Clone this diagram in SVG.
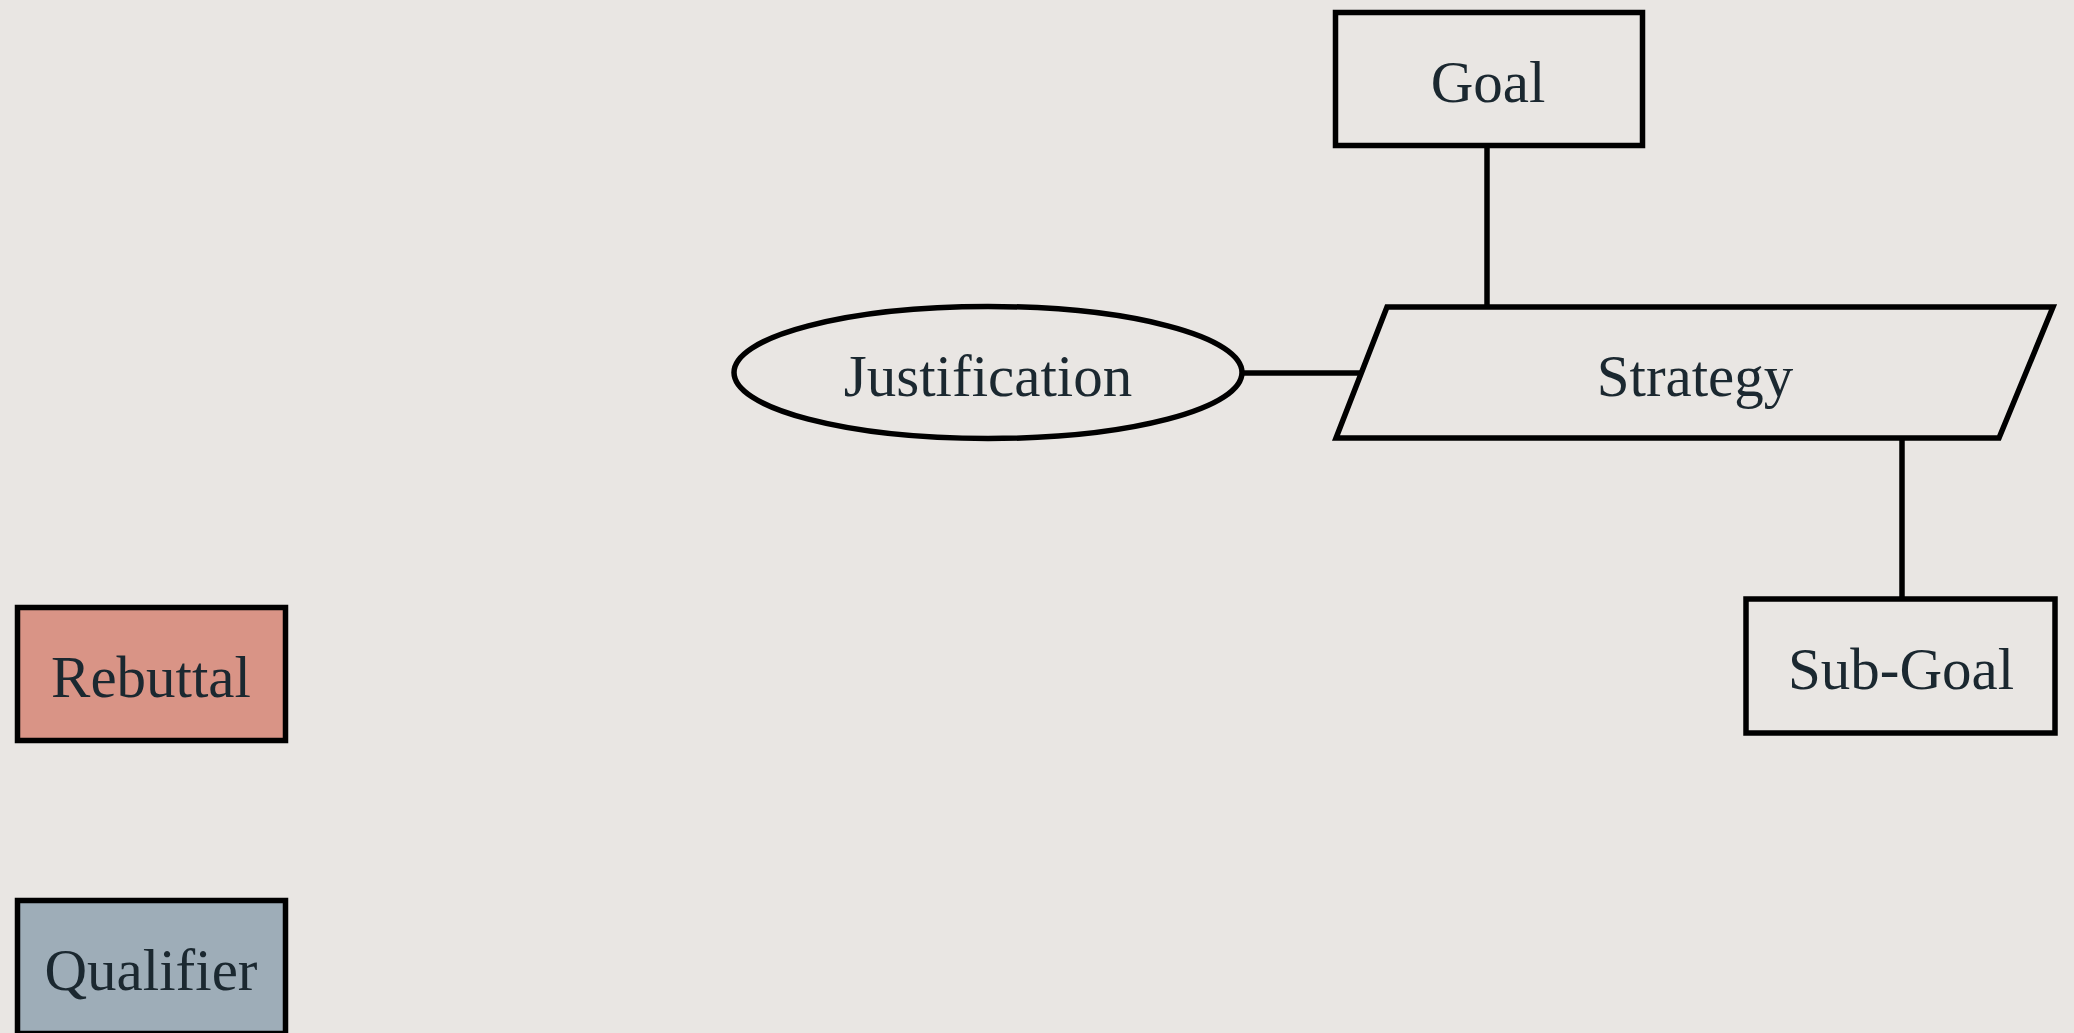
<svg xmlns="http://www.w3.org/2000/svg" width="2074" height="1033" viewBox="0 0 2074 1033">
<style>
.shape{stroke:#000;stroke-width:5.5;fill:none;stroke-linejoin:miter}
.conn{stroke:#000;stroke-width:5.5;fill:none}
.lbl{font-family:"Liberation Serif",serif;font-size:59px;fill:#1b2830;text-anchor:middle}
</style>
<rect width="2074" height="1033" fill="#e9e6e3"/>
<g id="connectors">
<line class="conn" x1="1487" y1="148" x2="1487" y2="307"/>
<line class="conn" x1="1243" y1="373" x2="1361" y2="373"/>
<line class="conn" x1="1902" y1="438" x2="1902" y2="599"/>
</g>
<g id="goal">
<rect class="shape" x="1335.5" y="12.5" width="307" height="133"/>
<text class="lbl" x="1488" y="102">Goal</text>
</g>
<g id="justification">
<ellipse class="shape" cx="988" cy="372.5" rx="254" ry="66"/>
<text class="lbl" x="988" y="396">Justification</text>
</g>
<g id="strategy">
<polygon class="shape" points="1387,307 2053,307 1999,438 1336,438"/>
<text class="lbl" x="1695" y="396">Strategy</text>
</g>
<g id="sub-goal">
<rect class="shape" x="1746" y="599" width="309" height="134"/>
<text class="lbl" x="1901" y="689">Sub-Goal</text>
</g>
<g id="rebuttal">
<rect class="shape" x="17.5" y="607.5" width="268" height="133" style="fill:#d99486"/>
<text class="lbl" x="151" y="697">Rebuttal</text>
</g>
<g id="qualifier">
<rect class="shape" x="17.5" y="900.5" width="268" height="133" style="fill:#9eadb8"/>
<text class="lbl" x="151" y="990">Qualifier</text>
</g>
</svg>
